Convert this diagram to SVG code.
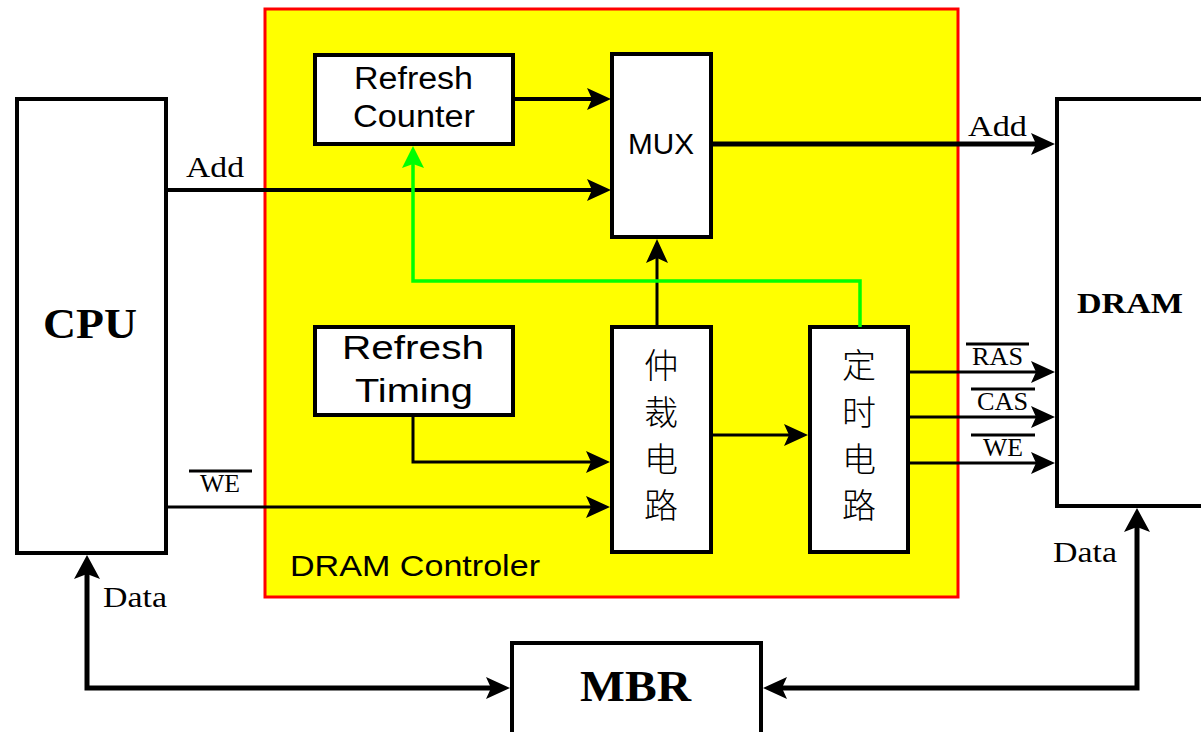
<svg xmlns="http://www.w3.org/2000/svg" width="1201" height="732" viewBox="0 0 1201 732">
<style>
.box{fill:#fff;stroke:#000;stroke-width:4}
.ser{font-family:"Liberation Serif","Times New Roman",serif;fill:#000}
.bold{font-family:"Liberation Serif","Times New Roman",serif;font-weight:bold;fill:#000}
.sans{font-family:"Liberation Sans",Arial,sans-serif;fill:#000}
.cjk{font-family:"Noto Sans CJK SC","Noto Sans CJK TC",sans-serif;font-size:34px;font-weight:300;fill:#000;text-anchor:middle}
.w5{fill:none;stroke:#000;stroke-width:5}
.w4{fill:none;stroke:#000;stroke-width:4}
.w3{fill:none;stroke:#000;stroke-width:3}
.green{fill:none;stroke:#00ff00;stroke-width:3.5}
.bar{stroke:#000;stroke-width:3}
</style>
<defs>
<marker id="ah" viewBox="0 0 24 22" refX="14" refY="11" markerWidth="24" markerHeight="22" markerUnits="userSpaceOnUse" orient="auto-start-reverse">
<path d="M0,0 L24,11 L0,22 L5,11 z" fill="#000"/>
</marker>
<marker id="ahg" viewBox="0 0 22 22" refX="12" refY="11" markerWidth="22" markerHeight="22" markerUnits="userSpaceOnUse" orient="auto">
<path d="M0,0 L22,11 L0,22 L4,11 z" fill="#00ff00"/>
</marker>
<marker id="ahb" viewBox="0 0 24 26" refX="14" refY="13" markerWidth="24" markerHeight="26" markerUnits="userSpaceOnUse" orient="auto-start-reverse">
<path d="M0,0 L24,13 L0,26 L5,13 z" fill="#000"/>
</marker>
</defs>

<g id="controller">
<rect x="265" y="9" width="693" height="588" fill="#ffff00" stroke="#ff0000" stroke-width="3"/>
<text class="sans" x="290" y="576" font-size="29" textLength="250" lengthAdjust="spacingAndGlyphs">DRAM Controler</text>
</g>

<g id="cpu">
<rect class="box" x="17" y="99" width="149" height="454"/>
<text class="bold" x="43" y="338" font-size="42" textLength="94" lengthAdjust="spacingAndGlyphs">CPU</text>
</g>

<g id="dram">
<rect class="box" x="1057" y="99" width="160" height="407"/>
<text class="bold" x="1077" y="313" font-size="30" textLength="106" lengthAdjust="spacingAndGlyphs">DRAM</text>
</g>

<g id="mbr">
<rect class="box" x="512" y="643" width="249" height="110"/>
<text class="bold" x="580" y="701" font-size="44" textLength="111" lengthAdjust="spacingAndGlyphs">MBR</text>
</g>

<g id="refresh-counter">
<rect class="box" x="315" y="55" width="198" height="89"/>
<text class="sans" x="354" y="89" font-size="31" textLength="119" lengthAdjust="spacingAndGlyphs">Refresh</text>
<text class="sans" x="353" y="127" font-size="31" textLength="122" lengthAdjust="spacingAndGlyphs">Counter</text>
</g>

<g id="mux">
<rect class="box" x="612" y="54" width="99" height="183"/>
<text class="sans" x="628" y="154" font-size="30" textLength="66" lengthAdjust="spacingAndGlyphs">MUX</text>
</g>

<g id="refresh-timing">
<rect class="box" x="315" y="327" width="198" height="88"/>
<text class="sans" x="342" y="359" font-size="34" textLength="142" lengthAdjust="spacingAndGlyphs">Refresh</text>
<text class="sans" x="355" y="402" font-size="34" textLength="118" lengthAdjust="spacingAndGlyphs">Timing</text>
</g>

<g id="arbiter">
<rect class="box" x="612" y="327" width="99" height="225"/>
<text class="cjk" x="661" y="378">仲</text>
<text class="cjk" x="661" y="425">裁</text>
<text class="cjk" x="661" y="472">电</text>
<text class="cjk" x="661" y="518">路</text>
</g>

<g id="timing">
<rect class="box" x="810" y="327" width="98" height="225"/>
<text class="cjk" x="859" y="378">定</text>
<text class="cjk" x="859" y="425">时</text>
<text class="cjk" x="859" y="472">电</text>
<text class="cjk" x="859" y="518">路</text>
</g>

<g id="connectors">
<path class="w4" d="M166,190 H601" marker-end="url(#ah)"/>
<path class="w4" d="M513,99 H601" marker-end="url(#ah)"/>
<path class="w3" d="M166,507 H600" marker-end="url(#ah)"/>
<path class="w3" d="M413,415 V462 H600" marker-end="url(#ah)"/>
<path class="w3" d="M657,327 V249" marker-end="url(#ah)"/>
<path class="w3" d="M711,435 H798" marker-end="url(#ah)"/>
<path class="green" d="M860,327 V281 H413 V156" marker-end="url(#ahg)"/>
<path class="w5" d="M711,144 H1045" marker-end="url(#ah)"/>
<path class="w3" d="M908,372 H1045" marker-end="url(#ah)"/>
<path class="w3" d="M908,417 H1045" marker-end="url(#ah)"/>
<path class="w3" d="M908,463 H1045" marker-end="url(#ah)"/>
<path class="w5" d="M87,565 V688 H500" marker-start="url(#ahb)" marker-end="url(#ah)"/>
<path class="w5" d="M1137,518 V688 H773" marker-start="url(#ahb)" marker-end="url(#ah)"/>
</g>

<g id="labels">
<text class="ser" x="186" y="177" font-size="30" textLength="58" lengthAdjust="spacingAndGlyphs">Add</text>
<text class="ser" x="968" y="136" font-size="30" textLength="59" lengthAdjust="spacingAndGlyphs">Add</text>
<line class="bar" x1="189" y1="471" x2="252" y2="471"/>
<text class="ser" x="200" y="492" font-size="26" textLength="40" lengthAdjust="spacingAndGlyphs">WE</text>
<line class="bar" x1="966" y1="344" x2="1029" y2="344"/>
<text class="ser" x="972" y="365" font-size="25" textLength="51" lengthAdjust="spacingAndGlyphs">RAS</text>
<line class="bar" x1="971" y1="389" x2="1035" y2="389"/>
<text class="ser" x="977" y="410" font-size="25" textLength="51" lengthAdjust="spacingAndGlyphs">CAS</text>
<line class="bar" x1="971" y1="435" x2="1035" y2="435"/>
<text class="ser" x="983" y="456" font-size="25" textLength="40" lengthAdjust="spacingAndGlyphs">WE</text>
<text class="ser" x="103" y="607" font-size="29" textLength="64" lengthAdjust="spacingAndGlyphs">Data</text>
<text class="ser" x="1053" y="562" font-size="29" textLength="64" lengthAdjust="spacingAndGlyphs">Data</text>
</g>
</svg>
